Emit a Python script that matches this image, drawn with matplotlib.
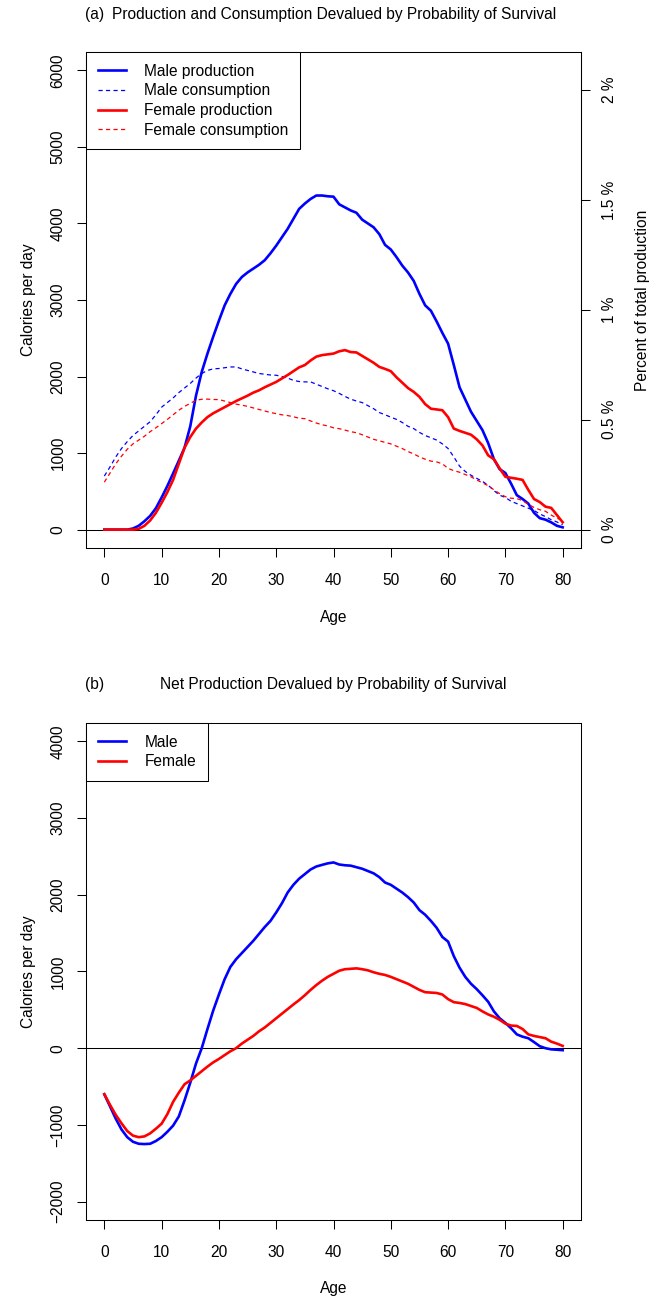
import numpy as np
import matplotlib
matplotlib.use("Agg")
import matplotlib.pyplot as plt

# ---------------- data ----------------
ages = list(range(0, 81))

male_production = [0, 0, 0, 0, 0, 15, 50, 110, 180, 280,
                   420, 570, 734, 900, 1070, 1350, 1750, 2060, 2300, 2520,
                   2730, 2930, 3080, 3210, 3300, 3360, 3410, 3460, 3520, 3610,
                   3710, 3820, 3930, 4060, 4190, 4260, 4320, 4365, 4365, 4355,
                   4350, 4250, 4210, 4170, 4140, 4050, 4000, 3950, 3860, 3720,
                   3660, 3560, 3450, 3360, 3250, 3080, 2930, 2860, 2720, 2570,
                   2430, 2150, 1860, 1700, 1540, 1420, 1300, 1130, 920, 790,
                   740, 600, 450, 400, 340, 220, 150, 130, 95, 50,
                   30]

male_consumption = [700, 820, 950, 1060, 1150, 1230, 1290, 1350, 1410, 1500,
                    1600, 1660, 1720, 1790, 1850, 1910, 1980, 2040, 2080, 2100,
                    2105, 2115, 2125, 2126, 2100, 2080, 2060, 2040, 2030, 2020,
                    2017, 2000, 1980, 1950, 1935, 1930, 1930, 1900, 1870, 1840,
                    1815, 1780, 1740, 1705, 1680, 1660, 1620, 1580, 1530, 1500,
                    1470, 1440, 1400, 1350, 1320, 1270, 1230, 1200, 1170, 1120,
                    1060, 950, 830, 760, 710, 670, 630, 580, 510, 450,
                    420, 370, 340, 310, 280, 250, 205, 170, 130, 100,
                    65]

female_production = [0, 0, 0, 0, 0, 0, 10, 50, 120, 220,
                     350, 490, 650, 860, 1070, 1210, 1320, 1400, 1470, 1520,
                     1560, 1600, 1640, 1680, 1715, 1750, 1790, 1820, 1860, 1895,
                     1930, 1975, 2020, 2070, 2120, 2150, 2210, 2260, 2280, 2290,
                     2300, 2330, 2345, 2320, 2315, 2270, 2225, 2180, 2126, 2100,
                     2070, 1990, 1920, 1850, 1800, 1735, 1640, 1580, 1570, 1560,
                     1470, 1320, 1290, 1265, 1240, 1180, 1100, 970, 920, 800,
                     690, 677, 665, 650, 520, 400, 360, 300, 284, 190,
                     96]

female_consumption = [620, 740, 860, 960, 1050, 1120, 1170, 1220, 1280, 1330,
                      1385, 1440, 1500, 1560, 1610, 1650, 1690, 1703, 1705, 1700,
                      1699, 1680, 1660, 1640, 1625, 1611, 1590, 1570, 1550, 1530,
                      1515, 1500, 1490, 1475, 1455, 1450, 1420, 1393, 1370, 1355,
                      1330, 1319, 1300, 1280, 1266, 1240, 1210, 1180, 1160, 1140,
                      1120, 1090, 1060, 1020, 990, 950, 920, 895, 885, 860,
                      800, 770, 750, 720, 690, 650, 610, 575, 520, 470,
                      430, 410, 405, 380, 330, 290, 260, 240, 190, 150,
                      118]

male_net = [-601, -760, -920, -1060, -1160, -1220, -1246, -1250, -1246, -1210,
            -1160, -1090, -1010, -890, -680, -450, -200, 0, 250, 490,
            700, 900, 1060, 1160, 1240, 1320, 1400, 1490, 1580, 1660,
            1770, 1890, 2030, 2130, 2210, 2270, 2330, 2369, 2390, 2410,
            2422, 2395, 2385, 2380, 2360, 2340, 2310, 2280, 2230, 2160,
            2130, 2080, 2030, 1970, 1900, 1800, 1740, 1660, 1570, 1450,
            1390, 1200, 1050, 930, 840, 770, 690, 605, 480, 390,
            330, 260, 180, 150, 130, 80, 26, 0, -15, -20,
            -26]

female_net = [-601, -740, -870, -980, -1080, -1140, -1160, -1150, -1110, -1050,
              -984, -860, -700, -580, -470, -420, -360, -300, -240, -185,
              -140, -90, -40, 0, 60, 110, 160, 220, 270, 330,
              390, 450, 510, 570, 627, 690, 760, 823, 880, 930,
              970, 1010, 1030, 1035, 1041, 1030, 1015, 990, 970, 955,
              930, 900, 870, 840, 800, 760, 730, 725, 720, 700,
              640, 600, 590, 575, 550, 525, 480, 440, 410, 370,
              320, 295, 290, 250, 180, 160, 145, 130, 85, 60,
              30]

cal_per_percent = 2872          # calories per day equal to 1 % of total production

x_ticks = [0, 10, 20, 30, 40, 50, 60, 70, 80]
a_yticks = [0, 1000, 2000, 3000, 4000, 5000, 6000]
a_pct_ticks = [0, 0.5, 1, 1.5, 2]
a_pct_labels = ["0 %", "0.5 %", "1 %", "1.5 %", "2 %"]
b_yticks = [-2000, -1000, 0, 1000, 2000, 3000, 4000]

title_a_tag = "(a)"
title_a = "Production and Consumption Devalued by Probability of Survival"
title_b_tag = "(b)"
title_b = "Net Production Devalued by Probability of Survival"

# ---------------- style ----------------
plt.rcParams['font.family'] = ['Liberation Sans', 'DejaVu Sans']
FS = 11.2
plt.rcParams['font.size'] = FS
plt.rcParams['lines.scale_dashes'] = False

W, H = 650, 1300
fig = plt.figure(figsize=(W / 100, H / 100), dpi=100)


def fx(px):
    return px / W


def fy(py):
    return 1 - py / H


def make_axes(left, top, right, bottom):
    return fig.add_axes([fx(left), fy(bottom), (right - left) / W, (bottom - top) / H])


def r_extend(lo, hi):
    d = (hi - lo) * 0.04
    return lo - d, hi + d


SOLID_LW = 1.9
DASH_LW = 0.9
DASH = (0, (3.0, 2.4))


def style_axes(ax, yticks):
    for s in ax.spines.values():
        s.set_linewidth(0.75)
        s.set_color('black')
    ax.set_xticks(x_ticks)
    ax.set_yticks(yticks)
    ax.tick_params(axis='x', direction='out', length=6.8, width=0.75, pad=11.0, labelsize=FS)
    ax.tick_params(axis='y', direction='out', length=6.8, width=0.75, pad=8.0, labelsize=FS)
    for lab in ax.get_yticklabels():
        lab.set_rotation(90)
        lab.set_va('center')
    ax.axhline(0, color='black', lw=0.75, zorder=1)


# ---------------- panel (a) ----------------
axA = make_axes(86, 52, 581, 548)
axA.set_xlim(*r_extend(0, 80))
axA.set_ylim(*r_extend(0, 6000))
axA.plot(ages, male_production, color='blue', lw=SOLID_LW, label='Male production', zorder=3)
axA.plot(ages, male_consumption, color='blue', lw=DASH_LW, ls=DASH, label='Male consumption', zorder=3)
axA.plot(ages, female_production, color='red', lw=SOLID_LW, label='Female production', zorder=3)
axA.plot(ages, female_consumption, color='red', lw=DASH_LW, ls=DASH, label='Female consumption', zorder=3)
style_axes(axA, a_yticks)

sec = axA.secondary_yaxis('right', functions=(lambda c: c / cal_per_percent,
                                               lambda p: p * cal_per_percent))
sec.set_yticks(a_pct_ticks)
sec.set_yticklabels(a_pct_labels)
sec.tick_params(direction='out', length=6.8, width=0.75, pad=8.0, labelsize=FS)
sec.spines['right'].set_linewidth(0.75)
for lab in sec.get_yticklabels():
    lab.set_rotation(90)
    lab.set_va('center')

legA = axA.legend(loc='upper left', bbox_to_anchor=(0, 1), borderaxespad=0,
                  fancybox=False, framealpha=1, edgecolor='black',
                  handlelength=1.8, handletextpad=1.2, borderpad=0.75,
                  labelspacing=0.3, fontsize=FS)
legA.get_frame().set_linewidth(0.75)

fig.text(fx(85), fy(15), title_a_tag, ha='left', va='center', fontsize=FS)
fig.text(fx(112), fy(15), title_a, ha='left', va='center', fontsize=FS)
fig.text(fx(333.5), fy(617), "Age", ha='center', va='center', fontsize=FS)
fig.text(fx(28), fy(300), "Calories per day", ha='center', va='center', rotation=90, fontsize=FS)
fig.text(fx(642), fy(300), "Percent of total production", ha='center', va='center',
         rotation=90, fontsize=FS)

# ---------------- panel (b) ----------------
axB = make_axes(86, 723, 581, 1220)
axB.set_xlim(*r_extend(0, 80))
axB.set_ylim(*r_extend(-2000, 4000))
axB.plot(ages, male_net, color='blue', lw=SOLID_LW, label='Male', zorder=3)
axB.plot(ages, female_net, color='red', lw=SOLID_LW, label='Female', zorder=3)
style_axes(axB, b_yticks)

legB = axB.legend(loc='upper left', bbox_to_anchor=(0, 1), borderaxespad=0,
                  fancybox=False, framealpha=1, edgecolor='black',
                  handlelength=1.8, handletextpad=1.2, borderpad=0.75,
                  labelspacing=0.3, fontsize=FS)
legB.get_frame().set_linewidth(0.75)

fig.text(fx(85), fy(685), title_b_tag, ha='left', va='center', fontsize=FS)
fig.text(fx(160), fy(685), title_b, ha='left', va='center', fontsize=FS)
fig.text(fx(333.5), fy(1289), "Age", ha='center', va='center', fontsize=FS)
fig.text(fx(28), fy(971.5), "Calories per day", ha='center', va='center', rotation=90, fontsize=FS)

fig.savefig("out.png", dpi=100)
